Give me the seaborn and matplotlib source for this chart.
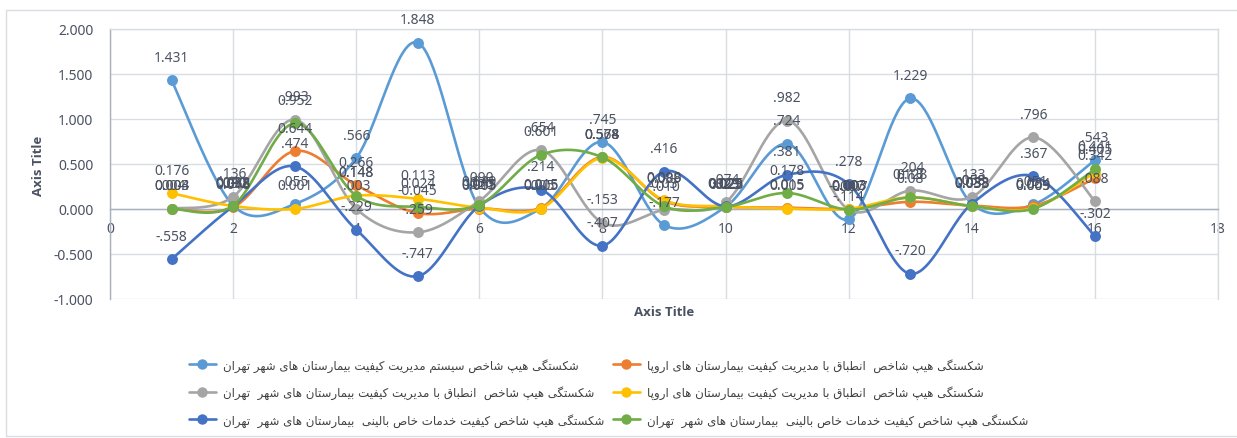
import numpy as np
import pandas as pd
import matplotlib
matplotlib.use("Agg")
import matplotlib.pyplot as plt
from matplotlib.lines import Line2D
from matplotlib.patches import Rectangle
import seaborn as sns

# ---------------- data ----------------
x_vals = list(range(1, 17))

s1_lightblue = [1.431, 0.040, 0.055, 0.566, 1.848, 0.020, 0.005, 0.745, -0.177, 0.023, 0.724, -0.114, 1.229, 0.058, 0.051, 0.543]
s2_orange    = [0.004, 0.018, 0.644, 0.266, -0.045, 0.005, 0.015, 0.578, 0.089, 0.025, 0.015, 0.003, 0.08, 0.038, 0.034, 0.342]
s3_gray      = [0.004, 0.136, 0.993, 0.003, -0.259, 0.090, 0.654, -0.153, -0.010, 0.074, 0.982, -0.007, 0.204, 0.133, 0.796, 0.088]
s4_yellow    = [0.176, 0.033, 0.001, 0.148, 0.113, 0.015, 0.005, 0.568, 0.098, 0.029, 0.005, 0.003, 0.13, 0.033, 0.009, 0.405]
s5_darkblue  = [-0.558, 0.030, 0.474, -0.229, -0.747, 0.035, 0.214, -0.407, 0.416, 0.029, 0.381, 0.278, -0.720, 0.058, 0.367, -0.302]
s6_green     = [0.003, 0.038, 0.952, 0.148, 0.024, 0.049, 0.601, 0.574, 0.030, 0.023, 0.178, -0.007, 0.128, 0.033, 0.003, 0.441]

series_names = [
    "شکستگی هیپ شاخص سیستم مدیریت کیفیت بیمارستان های شهر تهران",
    "شکستگی هیپ شاخص  انطباق با مدیریت کیفیت بیمارستان های اروپا",
    "شکستگی هیپ شاخص  انطباق با مدیریت کیفیت بیمارستان های شهر  تهران",
    "شکستگی هیپ شاخص  انطباق با مدیریت کیفیت بیمارستان های اروپا",
    "شکستگی هیپ شاخص کیفیت خدمات خاص بالینی  بیمارستان های شهر  تهران",
    "شکستگی هیپ شاخص کیفیت خدمات خاص بالینی  بیمارستان های شهر  تهران",
]
series_values = [s1_lightblue, s2_orange, s3_gray, s4_yellow, s5_darkblue, s6_green]
series_colors = ["#5B9BD5", "#ED7D31", "#A5A5A5", "#FFC000", "#4472C4", "#70AD47"]
label_no_lead_zero = [True, False, True, False, True, False]

x_ticks = list(range(0, 19, 2))
y_ticks = [-1.0, -0.5, 0.0, 0.5, 1.0, 1.5, 2.0]
axis_title = "Axis Title"

# ---------------- Persian shaping (presentation forms, visual order) ----------------
FORMS = {
    '\u0627': ('\uFE8D', '\uFE8E', None, None),
    '\u0628': ('\uFE8F', '\uFE90', '\uFE91', '\uFE92'),
    '\u062A': ('\uFE95', '\uFE96', '\uFE97', '\uFE98'),
    '\u062E': ('\uFEA5', '\uFEA6', '\uFEA7', '\uFEA8'),
    '\u062F': ('\uFEA9', '\uFEAA', None, None),
    '\u0631': ('\uFEAD', '\uFEAE', None, None),
    '\u0633': ('\uFEB1', '\uFEB2', '\uFEB3', '\uFEB4'),
    '\u0634': ('\uFEB5', '\uFEB6', '\uFEB7', '\uFEB8'),
    '\u0635': ('\uFEB9', '\uFEBA', '\uFEBB', '\uFEBC'),
    '\u0637': ('\uFEC1', '\uFEC2', '\uFEC3', '\uFEC4'),
    '\u0641': ('\uFED1', '\uFED2', '\uFED3', '\uFED4'),
    '\u0642': ('\uFED5', '\uFED6', '\uFED7', '\uFED8'),
    '\u0644': ('\uFEDD', '\uFEDE', '\uFEDF', '\uFEE0'),
    '\u0645': ('\uFEE1', '\uFEE2', '\uFEE3', '\uFEE4'),
    '\u0646': ('\uFEE5', '\uFEE6', '\uFEE7', '\uFEE8'),
    '\u0647': ('\uFEE9', '\uFEEA', '\uFEEB', '\uFEEC'),
    '\u0648': ('\uFEED', '\uFEEE', None, None),
    '\u067E': ('\uFB56', '\uFB57', '\uFB58', '\uFB59'),
    '\u06A9': ('\uFB8E', '\uFB8F', '\uFB90', '\uFB91'),
    '\u06AF': ('\uFB92', '\uFB93', '\uFB94', '\uFB95'),
    '\u06CC': ('\uFBFC', '\uFBFD', '\uFBFE', '\uFBFF'),
}
RIGHT_ONLY = set('\u0627\u062F\u0631\u0648')


def shape_fa(text):
    out = []
    n = len(text)
    for i, c in enumerate(text):
        if c not in FORMS:
            out.append(c)
            continue
        prev = text[i - 1] if i > 0 else None
        nxt = text[i + 1] if i + 1 < n else None
        jp = prev in FORMS and prev not in RIGHT_ONLY
        jn = (c not in RIGHT_ONLY) and (nxt in FORMS)
        iso, fin, ini, med = FORMS[c]
        if jp and jn:
            out.append(med)
        elif jp:
            out.append(fin)
        elif jn:
            out.append(ini)
        else:
            out.append(iso)
    return ''.join(out)[::-1]


def smooth_curve(xs, ys, steps=40):
    """Excel-like smoothed line (Catmull-Rom Bezier) through the data points."""
    p = np.column_stack([xs, ys]).astype(float)
    n = len(p)
    segs = []
    for i in range(n - 1):
        p0 = p[i - 1] if i > 0 else p[i]
        p1 = p[i]
        p2 = p[i + 1]
        p3 = p[i + 2] if i + 2 < n else p[i + 1]
        b1 = p1 + (p2 - p0) / 6.0
        b2 = p2 - (p3 - p1) / 6.0
        t = np.linspace(0, 1, steps)[:, None]
        seg = ((1 - t) ** 3) * p1 + 3 * ((1 - t) ** 2) * t * b1 + 3 * (1 - t) * t ** 2 * b2 + t ** 3 * p2
        segs.append(seg if i == 0 else seg[1:])
    c = np.vstack(segs)
    return c[:, 0], c[:, 1]


def fmt_label(v, no_lead):
    if no_lead:
        s = f"{v:.3f}"
        if s.startswith("0."):
            s = s[1:]
        elif s.startswith("-0."):
            s = "-" + s[2:]
        return s
    return f"{v:g}"


# ---------------- style ----------------
sns.set_style("white")
plt.rcParams['font.family'] = ['Noto Sans', 'DejaVu Sans']
TEXT = "#4B5262"
GRID = "#D9DCE1"
AXLINE = "#A9AFBC"

W, H = 1237, 439
fig = plt.figure(figsize=(W / 100, H / 100), dpi=100)
fig.patch.set_facecolor("white")
fig.patches.append(Rectangle((6 / W, 2 / H), 1.2, 1 - 13 / H, transform=fig.transFigure,
                             fill=False, edgecolor=GRID, linewidth=1.0))

ax = fig.add_axes([110 / W, 1 - 300 / H, (1218 - 110) / W, 270 / H])

for i, (vals, col) in enumerate(zip(series_values, series_colors)):
    sx, sy = smooth_curve(x_vals, vals)
    z = 3 + i * 0.1
    sns.lineplot(x=sx, y=sy, sort=False, estimator=None, color=col, linewidth=1.9, ax=ax,
                 zorder=z, legend=False)
    sns.scatterplot(x=x_vals, y=vals, color=col, s=62, linewidth=0, ax=ax, zorder=z + 0.05,
                    legend=False)

for i, vals in enumerate(series_values):
    for xv, yv in zip(x_vals, vals):
        ax.annotate(fmt_label(yv, label_no_lead_zero[i]), (xv, yv), xytext=(0, 16.5),
                    textcoords="offset points", ha="center", va="center",
                    fontsize=10, color=TEXT, zorder=10)

ax.set_xlim(0, 18)
ax.set_ylim(-1, 2)
ax.set_xticks(x_ticks)
ax.set_xticklabels([str(t) for t in x_ticks])
ax.set_yticks(y_ticks)
ax.set_yticklabels([f"{t:.3f}" for t in y_ticks])
ax.grid(True, color=GRID, linewidth=1.0)
ax.set_axisbelow(True)
ax.tick_params(axis="both", length=0, labelsize=10, labelcolor=TEXT)
ax.tick_params(axis="x", pad=9)
ax.tick_params(axis="y", pad=12)
ax.spines["bottom"].set_position(("data", 0))
ax.spines["bottom"].set_color(AXLINE)
ax.spines["left"].set_color(AXLINE)
ax.spines["top"].set_color(GRID)
ax.spines["right"].set_color(GRID)
for s in ax.spines.values():
    s.set_linewidth(1.0)
ax.set_xlabel("")
ax.set_ylabel("")

title_font = ["Open Sans", "Liberation Sans", "DejaVu Sans"]
fig.text(664 / W, 1 - 313 / H, axis_title, ha="center", va="center", fontsize=9.5,
         fontweight="bold", color=TEXT, family=title_font)
fig.text(39 / W, 1 - 166 / H, axis_title, ha="center", va="center", rotation=90,
         fontsize=9.5, fontweight="bold", color=TEXT, family=title_font)

# ---------------- legend (two columns) ----------------
handles = [Line2D([0], [0], color=c, lw=1.9, marker="o", markersize=7.5, markeredgewidth=0)
           for c in series_colors]
labels = [shape_fa(n) for n in series_names]
legprops = dict(loc="upper left", frameon=False, borderpad=0, handlelength=2.3,
                handletextpad=0.6, labelspacing=1.15, numpoints=1,
                prop={"family": "DejaVu Sans", "size": 8.5}, labelcolor="#404040")
leg1 = fig.legend([handles[0], handles[2], handles[4]], [labels[0], labels[2], labels[4]],
                  bbox_to_anchor=(183 / W, 1 - 353 / H), **legprops)
leg2 = fig.legend([handles[1], handles[3], handles[5]], [labels[1], labels[3], labels[5]],
                  bbox_to_anchor=(607 / W, 1 - 353 / H), **legprops)

fig.savefig("out.png", dpi=100, facecolor="white")
